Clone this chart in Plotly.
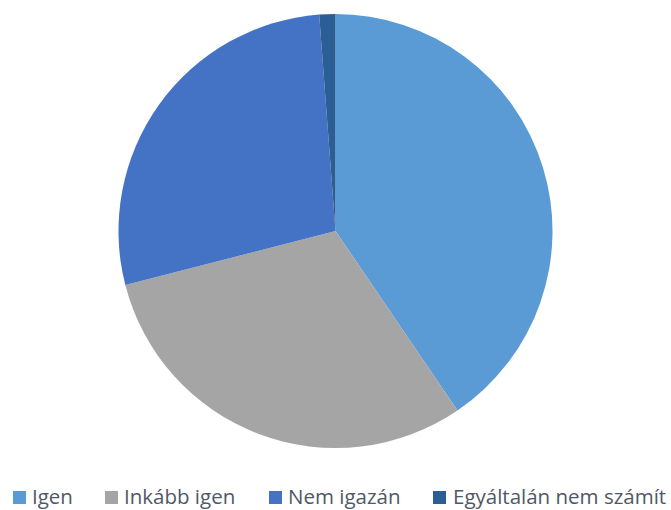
import plotly.graph_objects as go

# Survey answers and their shares (%)
categories = ["Igen", "Inkább igen", "Nem igazán", "Egyáltalán nem számít"]
shares = [40.5, 30.5, 27.8, 1.2]
colors = ["#5B9BD5", "#A5A5A5", "#4472C4", "#2A5E94"]

W, H = 671, 510

fig = go.Figure(
    go.Pie(
        labels=categories,
        values=shares,
        sort=False,
        direction="clockwise",
        rotation=0,
        textinfo="none",
        hoverinfo="label+percent",
        marker=dict(colors=colors, line=dict(width=0)),
        domain=dict(x=[118.5 / W, 552.5 / W], y=[1 - 448 / H, 1 - 14 / H]),
        showlegend=False,
    )
)

# Legend row along the bottom edge: a colour square followed by its label
legend_marker_x = [13, 105, 269, 433]
legend_text_x = [31, 123, 287, 452]
box = 13
y_mid = 496
shapes = []
annotations = []
for cat, col, mx, tx in zip(categories, colors, legend_marker_x, legend_text_x):
    shapes.append(
        dict(
            type="rect", xref="paper", yref="paper",
            x0=mx / W, x1=(mx + box) / W,
            y0=1 - (y_mid + 1.5 + box / 2) / H, y1=1 - (y_mid + 1.5 - box / 2) / H,
            fillcolor=col, line=dict(width=0),
        )
    )
    annotations.append(
        dict(
            text=cat, xref="paper", yref="paper",
            x=tx / W, y=1 - y_mid / H,
            xanchor="left", yanchor="middle", showarrow=False,
            borderpad=0,
            font=dict(family="Open Sans", size=20.5, color="#4F5868"),
        )
    )

fig.update_layout(
    width=W,
    height=H,
    margin=dict(l=0, r=0, t=0, b=0),
    paper_bgcolor="white",
    plot_bgcolor="white",
    shapes=shapes,
    annotations=annotations,
)

fig.write_html("out.html")
